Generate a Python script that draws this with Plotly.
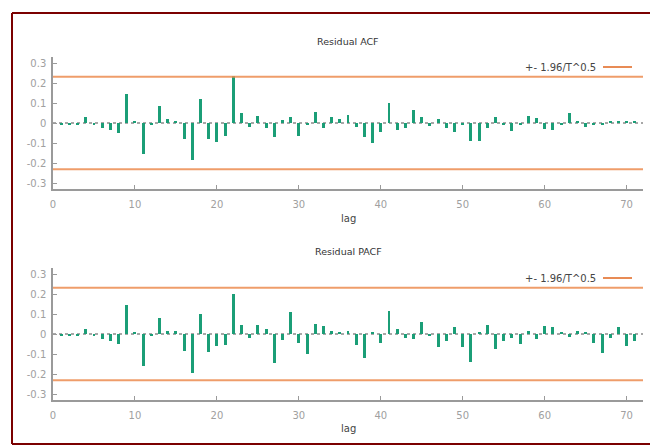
import plotly.graph_objects as go

W, H = 650, 447

lags = list(range(1, 72))

acf_values = [
    -0.010, -0.010, -0.008, 0.028, -0.010, -0.027, -0.035, -0.048, 0.143, 0.008,
    -0.157, -0.006, 0.083, 0.018, 0.007, -0.082, -0.187, 0.118, -0.082, -0.095,
    -0.067, 0.233, 0.052, -0.022, 0.035, -0.027, -0.068, 0.015, 0.028, -0.067,
    -0.006, 0.053, -0.027, 0.032, 0.018, 0.040, -0.022, -0.068, -0.100, -0.043,
    0.098, -0.035, -0.027, 0.065, 0.032, -0.013, 0.018, -0.027, -0.043, -0.008,
    -0.088, -0.088, -0.023, 0.028, -0.010, -0.038, -0.010, 0.035, 0.023, -0.032,
    -0.035, -0.012, 0.052, 0.008, -0.018, -0.012, -0.006, 0.008, 0.006, 0.006,
    0.006,
]

pacf_values = [
    -0.010, -0.010, -0.008, 0.027, -0.010, -0.027, -0.035, -0.050, 0.143, 0.012,
    -0.160, -0.006, 0.080, 0.017, 0.015, -0.083, -0.197, 0.100, -0.092, -0.060,
    -0.057, 0.198, 0.046, -0.022, 0.043, 0.027, -0.144, -0.031, 0.112, -0.043,
    -0.100, 0.050, 0.041, 0.017, 0.008, 0.013, -0.057, -0.122, 0.008, -0.045,
    0.113, 0.025, -0.022, -0.023, 0.058, -0.012, -0.067, -0.035, 0.033, -0.063,
    -0.140, 0.008, 0.047, -0.075, -0.035, -0.018, -0.050, 0.013, -0.025, 0.042,
    0.033, 0.008, -0.015, 0.015, 0.006, -0.047, -0.093, -0.022, 0.037, -0.060,
    -0.033,
]

conf_band = 0.231
legend_label = "+- 1.96/T^0.5"
titles = ["Residual ACF", "Residual PACF"]
xlabel = "lag"
x_ticks = [0, 10, 20, 30, 40, 50, 60, 70]
y_ticks = [-0.3, -0.2, -0.1, 0, 0.1, 0.2, 0.3]
y_tick_text = ["-0.3", "-0.2", "-0.1", "0", "0.1", "0.2", "0.3"]

GREEN = "#1b9e77"
BAND = "rgba(236,140,80,0.85)"
LEG = "#e0651c"
AX = "#9a9a9a"
FONT = "DejaVu Sans"


def px_x(p):
    return p / W


def px_y(p):
    return 1 - p / H


# pixel layout (screen pixels) of the two panels
x_dom = [px_x(53), px_x(643)]
panels = [
    dict(top=57, bottom=189, title_y=41, leg_y=67, lag_y=218),
    dict(top=268, bottom=400, title_y=251, leg_y=278, lag_y=428),
]

fig = go.Figure()
series = [acf_values, pacf_values]
shapes = []
annotations = []

for i, (vals, pan) in enumerate(zip(series, panels)):
    xa = "x" if i == 0 else "x2"
    ya = "y" if i == 0 else "y2"
    fig.add_trace(go.Bar(
        x=lags, y=vals, xaxis=xa, yaxis=ya,
        marker=dict(color=GREEN, line=dict(width=0)),
        width=0.36, showlegend=False, hoverinfo="x+y",
    ))
    # zero line (dotted)
    shapes.append(dict(type="line", xref=xa, yref=ya, x0=0, x1=72, y0=0, y1=0,
                       line=dict(color="#8a8a8a", width=1.5, dash="dot"), layer="below"))
    # confidence bands
    for s in (1, -1):
        shapes.append(dict(type="line", xref=xa, yref=ya, x0=0, x1=72,
                           y0=s * conf_band, y1=s * conf_band,
                           line=dict(color=BAND, width=2)))
    # legend sample line
    shapes.append(dict(type="line", xref="paper", yref="paper",
                       x0=px_x(603), x1=px_x(632), y0=px_y(pan["leg_y"]), y1=px_y(pan["leg_y"]),
                       line=dict(color=LEG, width=1.5)))
    annotations.append(dict(text=legend_label, xref="paper", yref="paper",
                            x=px_x(598), y=px_y(pan["leg_y"]), xanchor="right", yanchor="middle",
                            showarrow=False, font=dict(family=FONT, size=10, color="#444444")))
    annotations.append(dict(text=titles[i], xref="paper", yref="paper",
                            x=px_x(348), y=px_y(pan["title_y"]), xanchor="center", yanchor="middle",
                            showarrow=False, font=dict(family=FONT, size=9.5, color="#333333")))
    annotations.append(dict(text=xlabel, xref="paper", yref="paper",
                            x=px_x(348), y=px_y(pan["lag_y"]), xanchor="center", yanchor="middle",
                            showarrow=False, font=dict(family=FONT, size=10, color="#444444")))

axis_common = dict(
    showgrid=False, zeroline=False, showline=True, linecolor=AX, linewidth=1.5,
    ticks="inside", ticklen=4, tickcolor=AX, tickwidth=1,
    tickfont=dict(family=FONT, size=10, color="#a0a0a0"), automargin=False,
)

layout_axes = {}
for i, pan in enumerate(panels):
    sx = "" if i == 0 else "2"
    ydom = [px_y(pan["bottom"]), px_y(pan["top"])]
    layout_axes["xaxis" + sx] = dict(
        axis_common, domain=x_dom, range=[0, 72], tickvals=x_ticks,
        anchor="y" + sx, ticklabelstandoff=5,
    )
    layout_axes["yaxis" + sx] = dict(
        axis_common, domain=ydom, range=[-0.33, 0.33], tickvals=y_ticks,
        ticktext=y_tick_text, anchor="x" + sx, ticklabelstandoff=3,
    )

# outer maroon frame (open on the right: it runs to the window edge)
frame = dict(color="#7b0000", width=2)
shapes.append(dict(type="line", xref="paper", yref="paper", x0=px_x(12), x1=1.0,
                   y0=px_y(13), y1=px_y(13), line=frame))
shapes.append(dict(type="line", xref="paper", yref="paper", x0=px_x(12), x1=px_x(12),
                   y0=px_y(13), y1=px_y(444), line=frame))
shapes.append(dict(type="line", xref="paper", yref="paper", x0=px_x(12), x1=1.0,
                   y0=px_y(444), y1=px_y(444), line=frame))

fig.update_layout(
    width=W, height=H,
    margin=dict(l=0, r=0, t=0, b=0),
    paper_bgcolor="white", plot_bgcolor="white",
    shapes=shapes, annotations=annotations,
    bargap=0, showlegend=False,
    font=dict(family=FONT),
    **layout_axes,
)

fig.write_html(
    "out.html",
    config={"displayModeBar": False, "responsive": False},
    post_script="document.body.style.margin='0';document.body.style.overflow='hidden';"
                "document.documentElement.style.overflow='hidden';",
)
